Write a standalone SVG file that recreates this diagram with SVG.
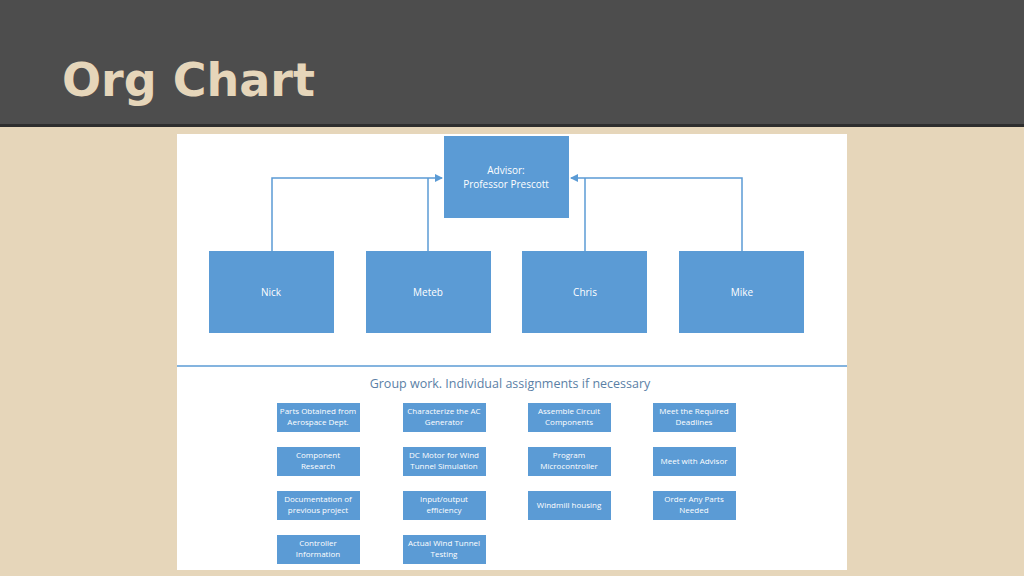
<svg xmlns="http://www.w3.org/2000/svg" width="1024" height="576" viewBox="0 0 1024 576">
<style>
.n{fill:#5B9BD5}
.t{font-family:"Open Sans","Liberation Sans",sans-serif;fill:#fff;text-anchor:middle}
.big{font-size:10px}
.sm{font-size:8px}
.c{fill:none;stroke:#5B9BD5;stroke-width:1.5}
</style>
<defs><marker id="a" markerWidth="8" markerHeight="8" refX="7" refY="4" orient="auto" markerUnits="userSpaceOnUse"><path d="M0,0L8,4L0,8z" fill="#5B9BD5"/></marker></defs>
<rect width="1024" height="576" fill="#E6D6BA"/>
<rect width="1024" height="125" fill="#4D4D4D"/>
<rect y="124" width="1024" height="3" fill="#2E2E2E"/>
<text x="62" y="96" font-family="'DejaVu Sans',sans-serif" font-weight="bold" font-size="46" fill="#E6D6BA">Org Chart</text>
<rect x="177" y="134" width="670" height="436" fill="#fff"/>
<g id="connectors">
<path class="c" d="M272,251V178H442" marker-end="url(#a)"/>
<path class="c" d="M428,251V178"/>
<path class="c" d="M742,251V178H571" marker-end="url(#a)"/>
<path class="c" d="M585,251V178"/>
</g>
<g id="advisor"><rect class="n" x="444" y="136" width="125" height="82"/><text class="t big" x="506" y="174">Advisor:</text><text class="t big" x="506" y="188">Professor Prescott</text></g>
<g id="nick"><rect class="n" x="209" y="251" width="125" height="82"/><text class="t big" x="271" y="296">Nick</text></g>
<g id="meteb"><rect class="n" x="366" y="251" width="125" height="82"/><text class="t big" x="428" y="296">Meteb</text></g>
<g id="chris"><rect class="n" x="522" y="251" width="125" height="82"/><text class="t big" x="585" y="296">Chris</text></g>
<g id="mike"><rect class="n" x="679" y="251" width="125" height="82"/><text class="t big" x="742" y="296">Mike</text></g>
<line x1="177" y1="366" x2="847" y2="366" stroke="#5B9BD5" stroke-width="1.5"/>
<text x="510" y="388" font-family="'Open Sans','Liberation Sans',sans-serif" font-size="12.5" fill="#5B7FA6" text-anchor="middle">Group work. Individual assignments if necessary</text>
<g id="t1"><rect class="n" x="277" y="403" width="83" height="29"/><text class="t sm" x="318" y="414">Parts Obtained from</text><text class="t sm" x="318" y="425">Aerospace Dept.</text></g>
<g id="t2"><rect class="n" x="403" y="403" width="83" height="29"/><text class="t sm" x="444" y="414">Characterize the AC</text><text class="t sm" x="444" y="425">Generator</text></g>
<g id="t3"><rect class="n" x="528" y="403" width="83" height="29"/><text class="t sm" x="569" y="414">Assemble Circuit</text><text class="t sm" x="569" y="425">Components</text></g>
<g id="t4"><rect class="n" x="653" y="403" width="83" height="29"/><text class="t sm" x="694" y="414">Meet the Required</text><text class="t sm" x="694" y="425">Deadlines</text></g>
<g id="t5"><rect class="n" x="277" y="447" width="83" height="29"/><text class="t sm" x="318" y="458">Component</text><text class="t sm" x="318" y="469">Research</text></g>
<g id="t6"><rect class="n" x="403" y="447" width="83" height="29"/><text class="t sm" x="444" y="458">DC Motor for Wind</text><text class="t sm" x="444" y="469">Tunnel Simulation</text></g>
<g id="t7"><rect class="n" x="528" y="447" width="83" height="29"/><text class="t sm" x="569" y="458">Program</text><text class="t sm" x="569" y="469">Microcontroller</text></g>
<g id="t8"><rect class="n" x="653" y="447" width="83" height="29"/><text class="t sm" x="694" y="464">Meet with Advisor</text></g>
<g id="t9"><rect class="n" x="277" y="491" width="83" height="29"/><text class="t sm" x="318" y="502">Documentation of</text><text class="t sm" x="318" y="513">previous project</text></g>
<g id="t10"><rect class="n" x="403" y="491" width="83" height="29"/><text class="t sm" x="444" y="502">Input/output</text><text class="t sm" x="444" y="513">efficiency</text></g>
<g id="t11"><rect class="n" x="528" y="491" width="83" height="29"/><text class="t sm" x="569" y="508">Windmill housing</text></g>
<g id="t12"><rect class="n" x="653" y="491" width="83" height="29"/><text class="t sm" x="694" y="502">Order Any Parts</text><text class="t sm" x="694" y="513">Needed</text></g>
<g id="t13"><rect class="n" x="277" y="535" width="83" height="29"/><text class="t sm" x="318" y="546">Controller</text><text class="t sm" x="318" y="557">Information</text></g>
<g id="t14"><rect class="n" x="403" y="535" width="83" height="29"/><text class="t sm" x="444" y="546">Actual Wind Tunnel</text><text class="t sm" x="444" y="557">Testing</text></g>
</svg>
